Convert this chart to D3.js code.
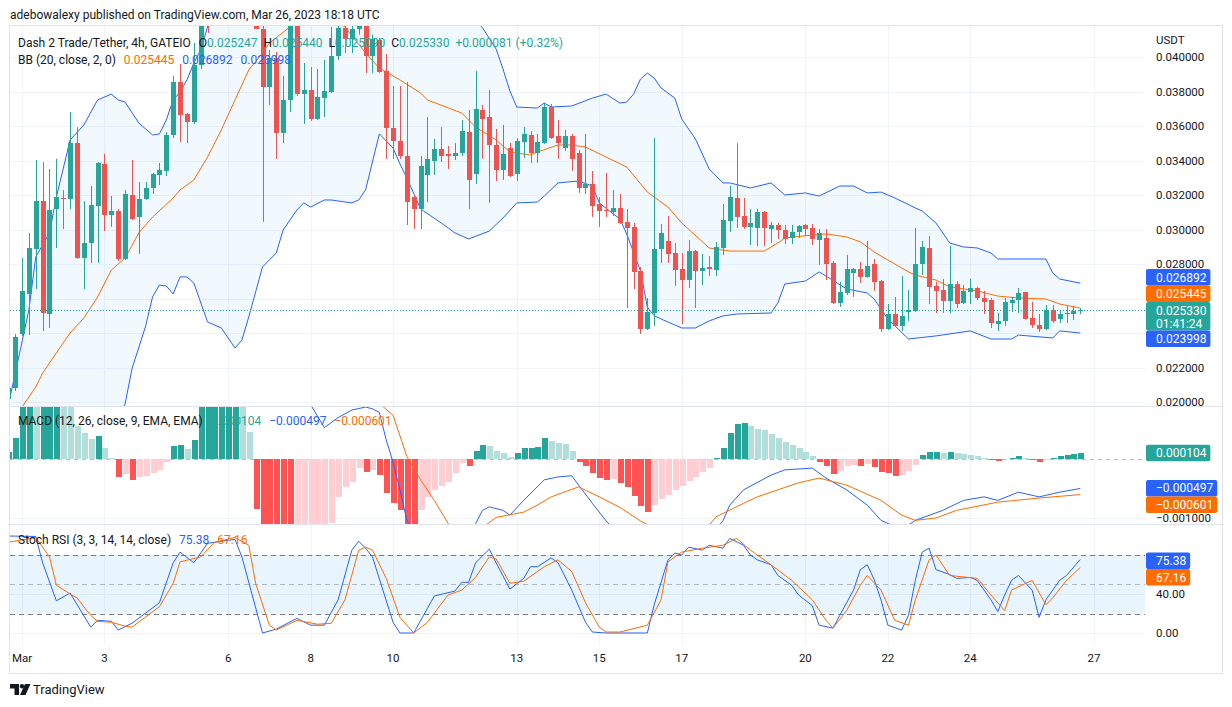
<!DOCTYPE html>
<html>
<head>
<meta charset="utf-8">
<script src="https://cdn.jsdelivr.net/npm/d3@7"></script>
<style>
  body { margin: 0; background: #fff; }
  svg { display: block; }
  text { font-family: "Trebuchet MS", Roboto, "Noto Sans", sans-serif; fill: #131722; }
</style>
</head>
<body>
<svg id="chart" width="1232" height="707"></svg>
<script>
// 4h candles, first one opens Feb 28 16:00 UTC, last one Mar 26 16:00 UTC
const opens = [
  0.02017,0.02081,0.02394,0.02626,0.02887,0.03165,0.02510,0.03119,0.03183,0.03177,
  0.03501,0.02835,0.02922,0.03136,0.03380,0.03084,0.03107,0.02829,0.03200,0.03073,
  0.03177,0.03241,0.03316,0.03339,0.03548,0.03855,0.03670,0.03623,0.03954,0.04300,
  0.04250,0.04400,0.04510,0.04460,0.04530,0.04420,0.04310,0.04165,0.03826,0.03994,
  0.03559,0.03751,0.04200,0.03786,0.03809,0.03641,0.03762,0.03797,0.04006,0.04168,
  0.04104,0.04162,0.04210,0.04006,0.04099,0.03919,0.03588,0.03513,0.03426,0.03190,
  0.03119,0.03316,0.03397,0.03467,0.03438,0.03426,0.03444,0.03565,0.03322,0.03693,
  0.03652,0.03490,0.03345,0.03473,0.03322,0.03507,0.03548,0.03444,0.03501,0.03710,
  0.03542,0.03473,0.03542,0.03444,0.03241,0.03264,0.03148,0.03113,0.03101,0.03125,
  0.03044,0.03015,0.02759,0.02423,0.02516,0.02887,0.02933,0.02864,0.02771,0.02707,
  0.02875,0.02759,0.02783,0.02765,0.02893,0.03049,0.03183,0.03078,0.03015,0.03009,
  0.03101,0.03003,0.03026,0.02997,0.02951,0.02986,0.03026,0.03009,0.02939,0.02951,
  0.02806,0.02574,0.02632,0.02748,0.02771,0.02725,0.02800,0.02701,0.02423,0.02510,
  0.02441,0.02522,0.02528,0.02800,0.02893,0.02673,0.02649,0.02586,0.02684,0.02574,
  0.02638,0.02661,0.02603,0.02591,0.02452,0.02470,0.02574,0.02591,0.02638,0.02487,
  0.02446,0.02423,0.02533,0.02481,0.02510,0.02510,0.025247
];
const highs = [
  0.02093,0.02394,0.02835,0.02980,0.03403,0.03391,0.03351,0.03409,0.03229,0.03681,
  0.03594,0.03165,0.03252,0.03391,0.03438,0.03194,0.03119,0.03229,0.03403,0.03275,
  0.03275,0.03328,0.03386,0.03565,0.03890,0.03959,0.03675,0.04081,0.04350,0.04360,
  0.04440,0.04560,0.04630,0.04580,0.04600,0.04490,0.04350,0.04195,0.04041,0.04029,
  0.03890,0.04230,0.04250,0.03965,0.03942,0.03930,0.03983,0.04174,0.04200,0.04190,
  0.04190,0.04250,0.04260,0.04130,0.04110,0.04017,0.03832,0.03832,0.03855,0.03200,
  0.03426,0.03652,0.03525,0.03594,0.03484,0.03501,0.03635,0.03693,0.03919,0.03722,
  0.03809,0.03583,0.03606,0.03501,0.03530,0.03594,0.03571,0.03554,0.03733,0.03728,
  0.03635,0.03577,0.03554,0.03461,0.03554,0.03339,0.03188,0.03328,0.03229,0.03206,
  0.03119,0.03038,0.02783,0.02603,0.03530,0.03032,0.03078,0.02922,0.02864,0.02939,
  0.02881,0.02858,0.02846,0.02928,0.03148,0.03252,0.03501,0.03183,0.03119,0.03119,
  0.03107,0.03044,0.03038,0.03026,0.03026,0.03026,0.03032,0.03032,0.03003,0.03003,
  0.02817,0.02696,0.02852,0.02777,0.02812,0.02933,0.02829,0.02707,0.02568,0.02609,
  0.02730,0.02649,0.03009,0.02933,0.02962,0.02696,0.02713,0.02904,0.02701,0.02678,
  0.02713,0.02667,0.02644,0.02603,0.02516,0.02603,0.02609,0.02661,0.02640,0.02580,
  0.02510,0.02562,0.02562,0.02528,0.02557,0.02557,0.025440
];
const lows = [
  0.01983,0.02064,0.02383,0.02388,0.02655,0.02412,0.02429,0.02893,0.03003,0.03119,
  0.02830,0.02655,0.02806,0.02806,0.02991,0.03015,0.02817,0.02823,0.03055,0.02858,
  0.03171,0.03206,0.03258,0.03310,0.03530,0.03507,0.03501,0.03612,0.03930,0.04139,
  0.04220,0.04340,0.04400,0.04350,0.04380,0.04260,0.04162,0.03044,0.03722,0.03409,
  0.03501,0.03681,0.03774,0.03612,0.03629,0.03635,0.03652,0.03791,0.03983,0.04023,
  0.04023,0.04130,0.03907,0.03907,0.03907,0.03409,0.03409,0.03409,0.03026,0.03003,
  0.03003,0.03159,0.03316,0.03391,0.03351,0.03403,0.03426,0.03119,0.03264,0.03409,
  0.03154,0.03281,0.03287,0.03304,0.03281,0.03415,0.03386,0.03386,0.03496,0.03525,
  0.03409,0.03455,0.03339,0.03212,0.03206,0.03073,0.03015,0.03073,0.03078,0.03032,
  0.02545,0.02655,0.02394,0.02417,0.02441,0.02806,0.02806,0.02673,0.02452,0.02661,
  0.02545,0.02678,0.02730,0.02730,0.02852,0.02986,0.03009,0.03003,0.02910,0.02904,
  0.02904,0.02922,0.02945,0.02916,0.02916,0.02951,0.02962,0.02910,0.02794,0.02707,
  0.02568,0.02551,0.02620,0.02609,0.02690,0.02720,0.02644,0.02406,0.02417,0.02435,
  0.02412,0.02470,0.02522,0.02736,0.02568,0.02516,0.02516,0.02516,0.02545,0.02568,
  0.02568,0.02591,0.02510,0.02429,0.02412,0.02441,0.02522,0.02516,0.02478,0.02429,
  0.02406,0.02417,0.02458,0.02458,0.02458,0.02475,0.025090
];
const closes = [
  0.02081,0.02377,0.02644,0.02893,0.03165,0.02516,0.03113,0.03188,0.03177,0.03501,
  0.02835,0.02922,0.03142,0.03386,0.03084,0.03107,0.02829,0.03206,0.03061,0.03177,
  0.03241,0.03322,0.03345,0.03548,0.03855,0.03664,0.03623,0.03954,0.04300,0.04250,
  0.04400,0.04510,0.04460,0.04530,0.04420,0.04310,0.04165,0.03826,0.03994,0.03559,
  0.03751,0.04200,0.03786,0.03809,0.03641,0.03768,0.03803,0.04006,0.04168,0.04104,
  0.04162,0.04210,0.04006,0.04104,0.03913,0.03588,0.03513,0.03426,0.03159,0.03119,
  0.03368,0.03409,0.03467,0.03426,0.03426,0.03444,0.03571,0.03287,0.03699,0.03641,
  0.03490,0.03345,0.03438,0.03310,0.03513,0.03554,0.03444,0.03507,0.03710,0.03530,
  0.03501,0.03542,0.03409,0.03241,0.03264,0.03136,0.03107,0.03107,0.03125,0.03038,
  0.03009,0.02754,0.02423,0.02522,0.02887,0.02980,0.02858,0.02765,0.02707,0.02875,
  0.02759,0.02777,0.02771,0.02899,0.03055,0.03188,0.03073,0.03015,0.03038,0.03101,
  0.03009,0.03026,0.02997,0.02945,0.02986,0.03020,0.03003,0.02945,0.02980,0.02800,
  0.02574,0.02638,0.02771,0.02771,0.02725,0.02788,0.02696,0.02423,0.02510,0.02441,
  0.02499,0.02533,0.02800,0.02899,0.02667,0.02644,0.02586,0.02684,0.02568,0.02644,
  0.02661,0.02603,0.02580,0.02458,0.02470,0.02580,0.02591,0.02632,0.02481,0.02446,
  0.02423,0.02533,0.02470,0.02510,0.02516,0.025249,0.025330
];

// Bollinger Bands (20, 2): [candle index, value]
const bbUpper = [
  [0,0.0198],[3,0.02533],[4,0.02841],[6,0.02980],[7,0.03188],[9,0.03519],[11,0.03606],[13,0.03751],
  [15,0.03785],[16,0.03751],[17,0.03739],[19,0.03617],[21,0.03548],[22,0.03554],[23,0.03635],[24,0.03751],
  [25,0.03797],[26,0.03867],[27,0.03965],[28,0.04041],[29,0.04174],[31,0.0445],[35,0.0470],[40,0.0485],
  [50,0.0480],[60,0.0455],[66,0.0430],[69,0.0417],[71,0.04046],[72,0.03930],[73,0.03803],[74,0.03710],
  [77,0.03704],[78,0.03733],[79,0.03710],[82,0.03716],[85,0.03762],[87,0.03785],[89,0.03733],[90,0.03739],
  [91,0.03785],[92,0.03872],[93,0.03907],[94,0.03878],[95,0.03820],[97,0.03762],[98,0.03641],[100,0.03525],
  [102,0.03351],[104,0.03270],[105,0.03270],[108,0.03241],[111,0.03270],[113,0.03200],[116,0.03212],[118,0.03194],
  [121,0.03252],[123,0.03252],[125,0.03212],[127,0.03217],[129,0.03183],[132,0.03125],[133,0.03107],[135,0.03038],
  [137,0.02922],[139,0.02899],[141,0.02893],[143,0.02864],[144,0.02829],[151,0.02829],[152,0.02748],[153,0.02713],
  [156,0.026892]
];
const bbBasis = [
  [0,0.0186],[2,0.0197],[4,0.02087],[5,0.02168],[7,0.02284],[9,0.02400],[11,0.02487],[13,0.02609],
  [15,0.02765],[17,0.02835],[19,0.02980],[21,0.03072],[24,0.03183],[25,0.03229],[27,0.03287],[29,0.03420],
  [31,0.03577],[33,0.03751],[35,0.03925],[37,0.04023],[38,0.04081],[41,0.04174],[44,0.0423],[47,0.0422],
  [49,0.04174],[52,0.04023],[54,0.03936],[57,0.03867],[60,0.03791],[61,0.03751],[66,0.03675],[68,0.03594],
  [71,0.03519],[73,0.03449],[76,0.03432],[77,0.03449],[80,0.03490],[82,0.03490],[84,0.03478],[87,0.03420],
  [90,0.03362],[93,0.03217],[96,0.03130],[98,0.03038],[102,0.02893],[105,0.02875],[110,0.02875],[112,0.02922],
  [113,0.02951],[117,0.02968],[119,0.02974],[122,0.02957],[124,0.02928],[126,0.02870],[128,0.02823],[131,0.02754],
  [132,0.02736],[135,0.02707],[137,0.02667],[141,0.02644],[144,0.02614],[147,0.02603],[151,0.02597],[153,0.02568],
  [156,0.025445]
];
const bbLower = [
  [0,0.0120],[5,0.0135],[10,0.0155],[14,0.0175],[17,0.01988],[18,0.02191],[20,0.02441],[21,0.02609],
  [22,0.02678],[23,0.02672],[24,0.02626],[25,0.02725],[26,0.02725],[27,0.02690],[29,0.02464],[31,0.02429],
  [33,0.02313],[34,0.02359],[35,0.02493],[37,0.02783],[39,0.02864],[40,0.02997],[42,0.03113],[43,0.03154],
  [44,0.03130],[46,0.03171],[47,0.03171],[50,0.03154],[51,0.03171],[52,0.03229],[54,0.03554],[56,0.03472],
  [57,0.03380],[58,0.03299],[60,0.03119],[63,0.03038],[65,0.02980],[67,0.02945],[70,0.02991],[72,0.03067],
  [74,0.03154],[77,0.03159],[78,0.03194],[80,0.03270],[83,0.03281],[85,0.03252],[86,0.03154],[89,0.03061],
  [90,0.02974],[92,0.02760],[93,0.02550],[94,0.02500],[95,0.02481],[98,0.02429],[100,0.02429],[102,0.02470],
  [104,0.02499],[106,0.02510],[111,0.02516],[112,0.02574],[113,0.02684],[116,0.02701],[118,0.02754],[119,0.02730],
  [122,0.02655],[125,0.02632],[126,0.02597],[128,0.02481],[131,0.02365],[135,0.02383],[140,0.02412],[143,0.02365],
  [146,0.02365],[147,0.02388],[152,0.02371],[153,0.02412],[156,0.023998]
];

// MACD (12, 26, 9): histogram per candle, lines as [candle index, value]
const macdHist = [
  0.000125,0.000364,0.0011,0.0014,0.0013,0.0016,0.0018,0.0019,0.0016,0.0010,
  0.00057,0.00045,0.00035,0.00040,0.00019,0.00002,-0.00030,-0.00025,-0.00035,-0.00030,
  -0.00029,-0.00023,-0.00018,-0.00005,0.00023,0.00024,0.00018,0.00033,0.0010,0.0013,
  0.0015,0.0016,0.0017,0.0018,0.0012,0.00047,-0.00085,-0.0013,-0.0016,-0.00185,
  -0.0020,-0.0021,-0.0019,-0.0017,-0.0015,-0.0013,-0.00115,-0.00109,-0.00064,-0.00047,
  -0.00039,-0.00015,-0.00022,-0.00018,-0.00027,-0.00058,-0.00075,-0.00087,-0.0011,-0.00125,
  -0.00087,-0.00064,-0.00053,-0.00046,-0.00039,-0.00023,-0.00006,-0.00012,0.00014,0.00024,
  0.00023,0.00014,0.00011,0.00004,0.00011,0.00019,0.00020,0.00021,0.00036,0.00031,
  0.00028,0.00026,0.00014,-0.00005,-0.00012,-0.00023,-0.00032,-0.00035,-0.00034,-0.00040,
  -0.00048,-0.00062,-0.00080,-0.00090,-0.00078,-0.00068,-0.00060,-0.00052,-0.00046,-0.00037,
  -0.00030,-0.00022,-0.00015,0.00002,0.00020,0.00045,0.00060,0.00062,0.00057,0.00052,
  0.00050,0.00043,0.00037,0.00030,0.00025,0.00020,0.00013,0.00006,-0.00005,-0.00012,
  -0.00025,-0.00020,-0.00012,-0.00010,-0.00012,-0.00008,-0.00013,-0.00022,-0.00024,-0.00028,
  -0.00026,-0.00020,-0.00010,0.00008,0.00012,0.00013,0.00011,0.00013,0.00010,0.00009,
  0.00008,0.00006,0.00003,-0.00002,-0.00003,0.00001,0.00003,0.00005,0.00002,-0.00002,
  -0.00004,-0.00001,0.00002,0.00005,0.00007,0.00009,0.000104
];
const macdLine = [
  [0,0.0013],[5,0.0030],[10,0.0033],[16,0.0026],[22,0.0023],[28,0.0030],[33,0.0042],[36,0.0038],
  [40,0.0026],[43,0.0013],[44,0.00093],[46,0.00054],[48,0.00071],[50,0.00084],[52,0.00089],[53,0.00086],
  [54,0.00080],[55,0.00033],[56,-0.00005],[57,-0.00052],[58,-0.00104],[60,-0.00145],[63,-0.0016],[66,-0.0014],
  [68,-0.0011],[69,-0.00087],[70,-0.00081],[72,-0.00087],[73,-0.00095],[75,-0.00070],[78,-0.00035],[80,-0.00030],
  [82,-0.00028],[83,-0.00044],[85,-0.00075],[87,-0.00105],[89,-0.0013],[93,-0.0018],[97,-0.0017],[101,-0.0014],
  [104,-0.00105],[105,-0.00078],[107,-0.00052],[111,-0.00027],[113,-0.00018],[117,-0.00015],[119,-0.00032],[122,-0.00052],
  [125,-0.00078],[127,-0.00104],[130,-0.0012],[132,-0.00104],[136,-0.00087],[139,-0.00070],[142,-0.00064],[144,-0.00070],
  [147,-0.00056],[150,-0.00064],[153,-0.00056],[156,-0.000497]
];
const macdSignal = [
  [0,0.0009],[10,0.0030],[20,0.0026],[30,0.0028],[36,0.0036],[40,0.0044],[44,0.0022],[46,0.0017],
  [50,0.00123],[54,0.00095],[56,0.00075],[58,0.00005],[60,-0.00035],[62,-0.0007],[64,-0.00109],[66,-0.00135],
  [68,-0.00125],[71,-0.00099],[75,-0.00090],[77,-0.00078],[79,-0.00064],[83,-0.00047],[86,-0.00064],[89,-0.00082],
  [92,-0.00105],[96,-0.0013],[100,-0.0014],[103,-0.00098],[107,-0.00075],[109,-0.00064],[115,-0.00040],[118,-0.00032],
  [122,-0.00044],[127,-0.00070],[130,-0.00095],[132,-0.00104],[135,-0.0010],[138,-0.00087],[144,-0.00073],[150,-0.00066],
  [156,-0.000601]
];

// Stoch RSI (3, 3, 14, 14): [candle index, value]
const stochK = [
  [0,99.5],[4,99],[5,72],[7,33],[9,41],[12,6],[13,13],[15,12],[16,3],[18,10],[22,31],[24,72],[25,83],
  [27,72],[29,92],[33,96],[34,78],[37,0],[39,4],[42,15],[44,8],[46,8],[48,34],[50,85],[51,94],[52,87],
  [53,78],[56,11],[57,0],[59,0],[62,38],[65,43],[66,52],[67,52],[68,72],[70,86],[71,72],[73,45],[75,56],
  [76,68],[77,68],[79,77],[80,72],[82,44],[84,11],[85,1],[87,0],[89,0],[93,0],[94,29],[96,75],[97,82],
  [98,80],[99,88],[101,85],[102,90],[104,87],[105,97],[107,90],[108,80],[109,75],[111,70],[112,59],[114,49],
  [115,39],[117,28],[118,8],[120,5],[121,18],[123,44],[124,65],[125,70],[126,55],[127,34],[128,8],[130,3],
  [131,18],[132,54],[133,83],[134,87],[135,65],[137,60],[138,56],[140,57],[141,54],[143,34],[144,22],[145,39],
  [146,54],[147,59],[149,44],[150,16],[151,34],[153,54],[154,59],[156,75.38]
];
const stochD = [
  [0,93],[4,98],[6,78],[7,49],[9,40],[10,36],[12,18],[13,12],[15,11],[17,7],[18,6],[22,27],[24,51],
  [25,73],[28,78],[30,93],[33,98],[35,90],[36,51],[38,8],[39,3],[42,13],[45,9],[47,10],[49,34],[51,85],
  [52,88],[53,85],[55,56],[57,16],[59,0],[61,11],[64,39],[66,44],[68,57],[70,78],[71,76],[73,51],[75,53],
  [78,68],[80,75],[82,63],[84,31],[86,6],[87,1],[89,1],[93,8],[95,34],[96,73],[98,83],[101,87],[104,90],
  [106,97],[108,85],[111,70],[114,54],[117,34],[119,13],[120,5],[122,23],[124,49],[125,59],[127,44],[129,13],
  [131,8],[132,34],[134,75],[135,80],[137,59],[141,56],[143,39],[145,23],[146,44],[149,54],[151,29],[152,36],
  [154,54],[156,67.16]
];

const dayTicks = [1, 3, 6, 8, 10, 13, 15, 17, 20, 22, 24, 27];
const priceTicks = [0.020, 0.022, 0.024, 0.026, 0.028, 0.030, 0.032, 0.034, 0.036, 0.038, 0.040];
const macdTicks = [0, -0.001];
const stochTicks = [0, 40, 80];
const stochBands = [80, 50, 20];

// ---- layout
const svg = d3.select('#chart');
const plotLeft = 10, plotRight = 1145;
const pricePane = [26, 406], macdPane = [406, 524], stochPane = [524, 645];
const axisX = 1156;

const GREEN = '#26a69a', RED = '#ef5350', BLUE = '#2962ff', ORANGE = '#ff6d00';

const firstOpen = Date.UTC(2023, 1, 28, 16);
const timeOf = i => new Date(firstOpen + i * 4 * 3600 * 1000);

const x = d3.scaleUtc()
  .domain([new Date(Date.UTC(2023, 2, 1)), new Date(Date.UTC(2023, 2, 27))])
  .range([22, 1094]);
const yPrice = d3.scaleLinear().domain([0.020, 0.040]).range([402, 57]);
const yMacd = d3.scaleLinear().domain([-0.001, 0]).range([518, 459.3]);
const yStoch = d3.scaleLinear().domain([0, 40]).range([633, 594]);

const candles = opens.map((o, i) => ({
  t: timeOf(i), o: o, h: highs[i], l: lows[i], c: closes[i]
}));

// clip paths for the panes
const defs = svg.append('defs');
function clip(id, pane) {
  defs.append('clipPath').attr('id', id)
    .append('rect')
    .attr('x', plotLeft).attr('y', pane[0])
    .attr('width', plotRight - plotLeft).attr('height', pane[1] - pane[0]);
  return 'url(#' + id + ')';
}
const clipPrice = clip('clip-price', pricePane);
const clipMacd = clip('clip-macd', macdPane);
const clipStoch = clip('clip-stoch', stochPane);

// header
svg.append('text')
  .attr('x', 10).attr('y', 19)
  .style('font-size', '12px')
  .text('adebowalexy published on TradingView.com, Mar 26, 2023 18:18 UTC');

// grid
const grid = svg.append('g').attr('stroke', '#f0f3fa').attr('stroke-width', 1);
dayTicks.forEach(d => {
  const gx = Math.round(x(new Date(Date.UTC(2023, 2, d)))) + 0.5;
  grid.append('line').attr('x1', gx).attr('x2', gx).attr('y1', pricePane[0]).attr('y2', stochPane[1]);
});
priceTicks.forEach(v => {
  const gy = Math.round(yPrice(v)) + 0.5;
  grid.append('line').attr('x1', plotLeft).attr('x2', plotRight).attr('y1', gy).attr('y2', gy);
});
macdTicks.slice(1).forEach(v => {
  const gy = Math.round(yMacd(v)) + 0.5;
  grid.append('line').attr('x1', plotLeft).attr('x2', plotRight).attr('y1', gy).attr('y2', gy);
});
stochTicks.forEach(v => {
  const gy = Math.round(yStoch(v)) + 0.5;
  grid.append('line').attr('x1', plotLeft).attr('x2', plotRight).attr('y1', gy).attr('y2', gy);
});

// ---- price pane
const pg = svg.append('g').attr('clip-path', clipPrice);

const bandLine = d3.line()
  .x(d => x(timeOf(d[0])))
  .y(d => yPrice(d[1]));

pg.append('path')
  .attr('d', bandLine(bbUpper.concat(bbLower.slice().reverse())) + 'Z')
  .attr('fill', 'rgba(33,150,243,0.06)');

[[bbUpper, BLUE], [bbLower, BLUE], [bbBasis, ORANGE]].forEach(([data, color]) => {
  pg.append('path')
    .attr('d', bandLine(data))
    .attr('fill', 'none')
    .attr('stroke', color)
    .attr('stroke-width', 1);
});

const candleG = pg.selectAll('.candle')
  .data(candles)
  .enter().append('g')
  .attr('class', 'candle');

candleG.append('line')
  .attr('x1', d => Math.round(x(d.t)) + 0.5)
  .attr('x2', d => Math.round(x(d.t)) + 0.5)
  .attr('y1', d => yPrice(d.h))
  .attr('y2', d => yPrice(d.l))
  .attr('stroke', d => d.c >= d.o ? GREEN : RED)
  .attr('stroke-width', 1);

candleG.append('rect')
  .attr('x', d => Math.round(x(d.t)) - 2)
  .attr('width', 5)
  .attr('y', d => yPrice(Math.max(d.o, d.c)))
  .attr('height', d => Math.max(1, Math.abs(yPrice(d.o) - yPrice(d.c))))
  .attr('fill', d => d.c >= d.o ? GREEN : RED)
  .attr('shape-rendering', 'crispEdges');

// last price line
const lastClose = closes[closes.length - 1];
pg.append('line')
  .attr('x1', plotLeft).attr('x2', plotRight)
  .attr('y1', Math.round(yPrice(lastClose)) + 0.5)
  .attr('y2', Math.round(yPrice(lastClose)) + 0.5)
  .attr('stroke', GREEN)
  .attr('stroke-dasharray', '1 2');

// ---- MACD pane
const mg = svg.append('g').attr('clip-path', clipMacd);

mg.append('line')
  .attr('x1', plotLeft).attr('x2', plotRight)
  .attr('y1', Math.round(yMacd(0)) + 0.5).attr('y2', Math.round(yMacd(0)) + 0.5)
  .attr('stroke', '#787b86').attr('stroke-opacity', 0.5)
  .attr('stroke-dasharray', '4 4');

function histColor(v, i) {
  const prev = i > 0 ? macdHist[i - 1] : 0;
  if (v >= 0) return prev < v ? '#26a69a' : '#b2dfdb';
  return prev < v ? '#ffcdd2' : '#ff5252';
}

mg.selectAll('.hist')
  .data(macdHist)
  .enter().append('rect')
  .attr('class', 'hist')
  .attr('x', (d, i) => Math.round(x(timeOf(i))) - 2.5)
  .attr('width', 6)
  .attr('y', d => yMacd(Math.max(0, d)))
  .attr('height', d => Math.abs(yMacd(d) - yMacd(0)))
  .attr('fill', histColor)
  .attr('shape-rendering', 'crispEdges');

const macdPath = d3.line().x(d => x(timeOf(d[0]))).y(d => yMacd(d[1]));
mg.append('path').attr('d', macdPath(macdLine))
  .attr('fill', 'none').attr('stroke', BLUE).attr('stroke-width', 1);
mg.append('path').attr('d', macdPath(macdSignal))
  .attr('fill', 'none').attr('stroke', ORANGE).attr('stroke-width', 1);

// ---- Stoch RSI pane
const sg = svg.append('g').attr('clip-path', clipStoch);

sg.append('rect')
  .attr('x', plotLeft).attr('width', plotRight - plotLeft)
  .attr('y', yStoch(80)).attr('height', yStoch(20) - yStoch(80))
  .attr('fill', 'rgba(33,150,243,0.1)');

stochBands.forEach(v => {
  sg.append('line')
    .attr('x1', plotLeft).attr('x2', plotRight)
    .attr('y1', Math.round(yStoch(v)) + 0.5).attr('y2', Math.round(yStoch(v)) + 0.5)
    .attr('stroke', '#787b86')
    .attr('stroke-opacity', v === 50 ? 0.5 : 1)
    .attr('stroke-dasharray', '5 4');
});

const stochPath = d3.line().x(d => x(timeOf(d[0]))).y(d => yStoch(d[1]));
sg.append('path').attr('d', stochPath(stochK))
  .attr('fill', 'none').attr('stroke', BLUE).attr('stroke-width', 1);
sg.append('path').attr('d', stochPath(stochD))
  .attr('fill', 'none').attr('stroke', ORANGE).attr('stroke-width', 1);

// ---- frame and pane separators
const frame = svg.append('g').attr('stroke', '#e0e3eb').attr('fill', 'none');
frame.append('rect').attr('x', 9.5).attr('y', 25.5).attr('width', 1213).attr('height', 648);
[macdPane[0], stochPane[0]].forEach(yy => {
  frame.append('line').attr('x1', 10).attr('x2', 1222).attr('y1', yy + 0.5).attr('y2', yy + 0.5);
});

// ---- value boxes on the axis (collected first so covered tick labels are skipped)
const fmt6 = d3.format('.6f');
const fmt2 = d3.format('.2f');
const minus = s => s.replace('-', '\u2212');
const boxes = [];
function addBox(top, color, lines) {
  const h = 16.5 + (lines.length - 1) * 12;
  boxes.push({ top: top, h: h, color: color, lines: lines });
  return h;
}

const bbLast = {
  up: bbUpper[bbUpper.length - 1][1],
  mid: bbBasis[bbBasis.length - 1][1],
  low: bbLower[bbLower.length - 1][1]
};
const lastTop = yPrice(lastClose) - 8;
const lastH = addBox(lastTop, GREEN, [fmt6(lastClose), '01:41:24']);
addBox(lastTop - 16.5, ORANGE, [fmt6(bbLast.mid)]);
addBox(lastTop - 33, BLUE, [fmt6(bbLast.up)]);
addBox(lastTop + lastH, BLUE, [fmt6(bbLast.low)]);

const histLast = macdHist[macdHist.length - 1];
const macdLast = macdLine[macdLine.length - 1][1];
const sigLast = macdSignal[macdSignal.length - 1][1];
addBox(yMacd(histLast) - 8.5, GREEN, [fmt6(histLast)]);
addBox(yMacd(macdLast) - 8.5, BLUE, [minus(fmt6(macdLast))]);
addBox(yMacd(macdLast) + 8, ORANGE, [minus(fmt6(sigLast))]);

const kLast = stochK[stochK.length - 1][1];
const dLast = stochD[stochD.length - 1][1];
addBox(yStoch(kLast) - 7, BLUE, [fmt2(kLast)]);
addBox(yStoch(kLast) + 9.5, ORANGE, [fmt2(dLast)]);

const covered = yy => boxes.some(b => yy > b.top + 1 && yy < b.top + b.h - 1);

// ---- axes
const axisFont = '11.5px';

svg.append('text').attr('x', axisX).attr('y', 44).style('font-size', axisFont).text('USDT');
svg.selectAll('.ptick').data(priceTicks.filter(v => !covered(yPrice(v)))).enter().append('text')
  .attr('x', axisX).attr('y', d => yPrice(d) + 4)
  .style('font-size', axisFont)
  .text(d => fmt6(d));
svg.selectAll('.mtick').data(macdTicks.filter(v => !covered(yMacd(v)))).enter().append('text')
  .attr('x', axisX).attr('y', d => yMacd(d) + 4)
  .style('font-size', axisFont)
  .text(d => minus(fmt6(d)));
svg.selectAll('.stick').data(stochTicks.filter(v => !covered(yStoch(v)))).enter().append('text')
  .attr('x', axisX).attr('y', d => yStoch(d) + 4)
  .style('font-size', axisFont)
  .text(d => fmt2(d));

svg.selectAll('.ttick').data(dayTicks).enter().append('text')
  .attr('x', d => x(new Date(Date.UTC(2023, 2, d))))
  .attr('y', 662)
  .attr('text-anchor', 'middle')
  .style('font-size', axisFont)
  .text(d => d === 1 ? 'Mar' : d);

boxes.forEach(b => {
  const g = svg.append('g');
  const rect = g.append('rect').attr('x', 1146).attr('y', b.top)
    .attr('rx', 2).attr('height', b.h).attr('fill', b.color);
  let w = 0;
  b.lines.forEach((s, k) => {
    const t = g.append('text')
      .attr('x', axisX).attr('y', b.top + 12.5 + k * 13)
      .style('font-size', '12px').style('fill', '#fff')
      .text(s);
    w = Math.max(w, t.node().getComputedTextLength());
  });
  rect.attr('width', w + 14);
});

// ---- legends
function legend(yy, parts) {
  const t = svg.append('text').attr('x', 18).attr('y', yy).style('font-size', '12px');
  parts.forEach(p => {
    t.append('tspan').attr('dx', p.gap || 0).style('fill', p.color || '#131722').text(p.text);
  });
}
const last = candles[candles.length - 1];
const prevClose = closes[closes.length - 2];
const change = last.c - prevClose;
legend(47, [
  { text: 'Dash 2 Trade/Tether, 4h, GATEIO' },
  { text: 'O', gap: 8 }, { text: fmt6(last.o), color: GREEN },
  { text: 'H', gap: 6 }, { text: fmt6(last.h), color: GREEN },
  { text: 'L', gap: 6 }, { text: fmt6(last.l), color: GREEN },
  { text: 'C', gap: 6 }, { text: fmt6(last.c), color: GREEN },
  { text: '+' + fmt6(change) + ' (+' + fmt2(change / prevClose * 100) + '%)', gap: 6, color: GREEN }
]);
legend(64, [
  { text: 'BB (20, close, 2, 0)' },
  { text: fmt6(bbLast.mid), gap: 8, color: ORANGE },
  { text: fmt6(bbLast.up), gap: 8, color: BLUE },
  { text: fmt6(bbLast.low), gap: 8, color: BLUE }
]);
legend(425, [
  { text: 'MACD (12, 26, close, 9, EMA, EMA)' },
  { text: fmt6(histLast), gap: 8, color: GREEN },
  { text: minus(fmt6(macdLast)), gap: 8, color: BLUE },
  { text: minus(fmt6(sigLast)), gap: 8, color: ORANGE }
]);
legend(544, [
  { text: 'Stoch RSI (3, 3, 14, 14, close)' },
  { text: fmt2(kLast), gap: 8, color: BLUE },
  { text: fmt2(dLast), gap: 8, color: ORANGE }
]);

// ---- footer logo
const logo = svg.append('g').attr('fill', '#131722');
logo.append('path').attr('d', 'M10 684h9v11h-4.5v-6.5H10z');
logo.append('circle').attr('cx', 22).attr('cy', 686.3).attr('r', 2.2);
logo.append('path').attr('d', 'M25 684h5.5l-5 11H20z');
svg.append('text').attr('x', 33).attr('y', 694).style('font-size', '13px').text('TradingView');
</script>
</body>
</html>
